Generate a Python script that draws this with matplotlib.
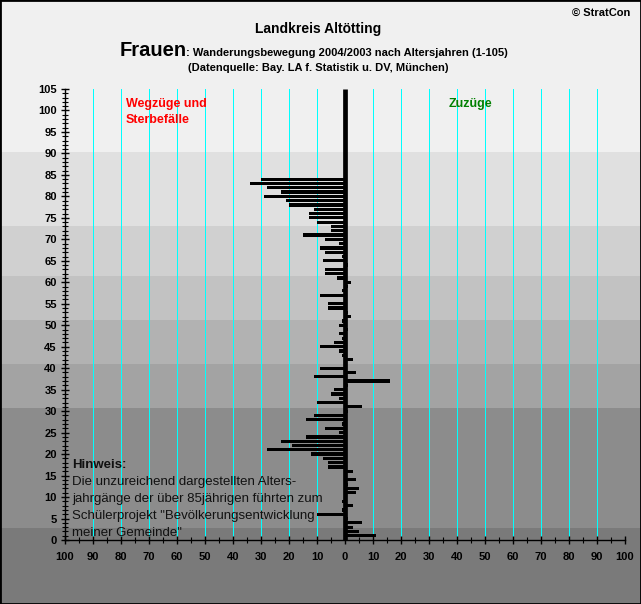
import numpy as np
import matplotlib
matplotlib.use('Agg')
import matplotlib.pyplot as plt
import matplotlib.transforms as mtransforms
from matplotlib.patches import Rectangle

plt.rcParams['font.family'] = ['Liberation Sans', 'DejaVu Sans']

# %% data: net migration of women per age (negative = Wegzüge/Sterbefälle)

ages = list(range(1, 106))
saldo = [11, 5, 3, 6, 1, -10, -1, 3, -1, 0,
         4, 5, 1, 4, 0, 3, -6, -6, -8, -12,
         -28, -19, -23, -14, -2, -7, -1, -14, -11, 1,
         6, -10, -2, -5, -4, 1, 16, -11, 4, -9,
         0, 3, -1, -2, -9, -4, -1, -2, 1, -2,
         -1, 2, 1, -6, -6, 0, -9, -1, 1, 2,
         -3, -7, -7, 1, -8, -1, -7, -9, -2, -7,
         -15, -5, -5, -10, -13, -13, -11, -20, -21, -29,
         -23, -28, -34, -30] + [0] * 21

# background bands (age limits) and their greys
band_edges = [-60, 2.9, 30.8, 41.0, 51.2, 61.5, 73.2, 90.4, 200]
band_colors = ['#7a7a7a', '#8c8c8c', '#a3a3a3', '#b2b2b2', '#c2c2c2',
               '#d0d0d0', '#e0e0e0', '#f0f0f0']

x_ticks = list(range(-100, 101, 10))
x_labels = [str(abs(v)) for v in x_ticks]

note_lines = ['Die unzureichend dargestellten Alters-',
              'jahrgänge der über 85jährigen führten zum',
              'Schülerprojekt "Bevölkerungsentwicklung',
              'meiner Gemeinde"']

# %% figure

W, H = 641, 604
fig = plt.figure(figsize=(W / 100, H / 100), dpi=100)
fig.patch.set_facecolor('#f0f0f0')
ax = fig.add_axes([65 / W, 64 / H, 560 / W, 451 / H])
ax.patch.set_visible(False)
ax.set_xlim(-100, 100)
ax.set_ylim(0, 105)

trans = mtransforms.blended_transform_factory(fig.transFigure, ax.transData)
for lo, hi, c in zip(band_edges[:-1], band_edges[1:], band_colors):
    ax.add_patch(Rectangle((0, lo), 1, hi - lo, transform=trans, facecolor=c,
                           edgecolor='none', clip_on=False, zorder=-10))

# thin cyan grid every 10
for x in x_ticks:
    if x not in (-100, 0):
        ax.plot([x, x], [0, 105], color='#00ffff', lw=0.72, antialiased=False, zorder=1)

ax.barh(ages, saldo, height=0.75, color='black', zorder=3)
ax.plot([0, 0], [0, 105], color='black', lw=3.4, solid_capstyle='butt', zorder=4)

for s in ['top', 'right']:
    ax.spines[s].set_visible(False)
for s in ['left', 'bottom']:
    ax.spines[s].set_color('black')
    ax.spines[s].set_linewidth(1)

ax.set_xticks(x_ticks)
ax.set_xticklabels(x_labels, fontweight='bold', fontsize=8)
ax.set_xticks(range(-95, 100, 10), minor=True)
ax.set_yticks(range(0, 106, 5))
ax.set_yticklabels([str(v) for v in range(0, 106, 5)], fontweight='bold', fontsize=8)
ax.set_yticks(range(0, 106, 1), minor=True)
ax.tick_params(which='major', direction='inout', length=6, width=1)
ax.tick_params(axis='x', which='major', pad=6)
ax.tick_params(axis='y', which='major', pad=3)
ax.tick_params(which='minor', direction='inout', length=4, width=0.8)

# %% texts

def fy(py):
    return 1 - py / H

fig.text(630 / W, fy(13), '© StratCon', ha='right', va='center', fontsize=8, fontweight='bold')
fig.text(318 / W, fy(29), 'Landkreis Altötting', ha='center', va='center', fontsize=10, fontweight='bold')
fig.text(120 / W, fy(56), 'Frauen', ha='left', va='baseline', fontsize=14.5, fontweight='bold')
fig.text(186 / W, fy(56), ': Wanderungsbewegung 2004/2003 nach Altersjahren (1-105)',
         ha='left', va='baseline', fontsize=8, fontweight='bold')
fig.text(318 / W, fy(68), '(Datenquelle: Bay. LA f. Statistik u. DV, München)',
         ha='center', va='center', fontsize=8, fontweight='bold')

fig.text(126 / W, fy(104), 'Wegzüge und', color='red', ha='left', va='center', fontsize=9, fontweight='bold')
fig.text(126 / W, fy(120), 'Sterbefälle', color='red', ha='left', va='center', fontsize=9, fontweight='bold')
fig.text(449 / W, fy(104), 'Zuzüge', color='#008000', ha='left', va='center', fontsize=9, fontweight='bold')

fig.text(72 / W, fy(465), 'Hinweis:', ha='left', va='center', fontsize=9.5, fontweight='bold', color='#111111')
for i, line in enumerate(note_lines):
    fig.text(72 / W, fy(482 + i * 17), line, ha='left', va='center', fontsize=9.5, color='#111111')

fig.add_artist(Rectangle((0, 0), 1, 1, transform=fig.transFigure, fill=False,
                         edgecolor='black', lw=2))

fig.savefig('out.png', dpi=100, facecolor=fig.get_facecolor())
